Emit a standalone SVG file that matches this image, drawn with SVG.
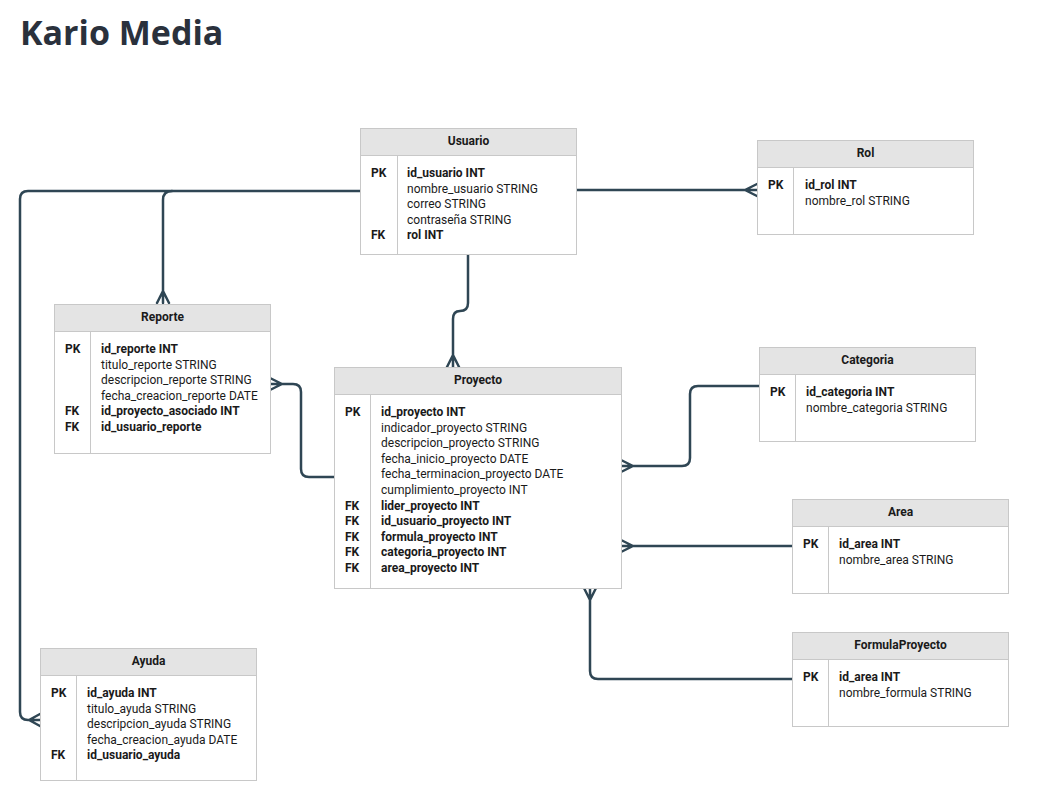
<svg xmlns="http://www.w3.org/2000/svg" width="1040" height="797" viewBox="0 0 1040 797">
<style>
.bg{fill:#ffffff}
.box{fill:#ffffff;stroke:#c8c8c8;stroke-width:1}
.hdr{fill:#e4e4e4;stroke:#c8c8c8;stroke-width:1}
.div{stroke:#c8c8c8;stroke-width:1}
.title{font-family:"Open Sans","Noto Sans",sans-serif;font-weight:bold;font-size:34px;fill:#2a313c}
.h{font-family:Roboto,"Liberation Sans",sans-serif;font-weight:bold;font-size:12px;fill:#1a1a1a;text-anchor:middle}
.k{font-family:Roboto,"Liberation Sans",sans-serif;font-weight:bold;font-size:12px;fill:#1a1a1a}
.f{font-family:Roboto,"Liberation Sans",sans-serif;font-size:12px;fill:#1a1a1a}
.b{font-weight:bold}
.c{fill:none;stroke:#2f4654;stroke-width:2.5;stroke-linecap:round;stroke-linejoin:round}
</style>
<rect class="bg" x="0" y="0" width="1040" height="797"/>
<text class="title" x="20" y="45">Kario Media</text>

<g id="connectors">
  <path class="c" d="M577,190 H757 M745,190 L757,184 M745,190 L757,196"/>
  <path class="c" d="M360,191 H172 Q163,191 163,200 V303 M163,291 L157,303 M163,291 L169,303"/>
  <path class="c" d="M172,191 H28 Q20,191 20,199 V712 Q20,720 28,720 H40 M29,720 L40,714 M29,720 L40,726"/>
  <path class="c" d="M468,254 V303 Q468,311 460,311 Q453,311 453,319 V367 M453,355 L447,367 M453,355 L459,367"/>
  <path class="c" d="M270,384 H293 Q301,384 301,392 V469 Q301,477 309,477 H334 M282,384 L270,378 M282,384 L270,390"/>
  <path class="c" d="M759,386 H698 Q690,386 690,394 V458 Q690,466 682,466 H621 M633,466 L621,460 M633,466 L621,472"/>
  <path class="c" d="M792,546 H621 M633,546 L621,540 M633,546 L621,552"/>
  <path class="c" d="M792,679 H598 Q590,679 590,671 V588 M590,600 L584,588 M590,600 L596,588"/>
</g>

<g id="Usuario">
  <rect class="box" x="360.5" y="128.5" width="216" height="126"/>
  <rect class="hdr" x="360.5" y="128.5" width="216" height="27"/>
  <line class="div" x1="397.5" y1="155.5" x2="397.5" y2="254.5"/>
  <text class="h" x="468.5" y="145">Usuario</text>
  <text class="k" x="371" y="177">PK</text>
  <text class="f b" x="407" y="177">id_usuario INT</text>
  <text class="f" x="407" y="192.6">nombre_usuario STRING</text>
  <text class="f" x="407" y="208.2">correo STRING</text>
  <text class="f" x="407" y="223.8">contraseña STRING</text>
  <text class="k" x="371" y="239.4">FK</text>
  <text class="f b" x="407" y="239.4">rol INT</text>
</g>

<g id="Rol">
  <rect class="box" x="757.5" y="140.5" width="216" height="94"/>
  <rect class="hdr" x="757.5" y="140.5" width="216" height="27"/>
  <line class="div" x1="793.5" y1="167.5" x2="793.5" y2="234.5"/>
  <text class="h" x="865.5" y="157">Rol</text>
  <text class="k" x="768" y="189">PK</text>
  <text class="f b" x="805" y="189">id_rol INT</text>
  <text class="f" x="805" y="204.6">nombre_rol STRING</text>
</g>

<g id="Reporte">
  <rect class="box" x="54.5" y="304.5" width="216" height="149"/>
  <rect class="hdr" x="54.5" y="304.5" width="216" height="27"/>
  <line class="div" x1="90.5" y1="331.5" x2="90.5" y2="453.5"/>
  <text class="h" x="162.5" y="321">Reporte</text>
  <text class="k" x="65" y="353">PK</text>
  <text class="f b" x="101" y="353">id_reporte INT</text>
  <text class="f" x="101" y="368.6">titulo_reporte STRING</text>
  <text class="f" x="101" y="384.2">descripcion_reporte STRING</text>
  <text class="f" x="101" y="399.8">fecha_creacion_reporte DATE</text>
  <text class="k" x="65" y="415.4">FK</text>
  <text class="f b" x="101" y="415.4">id_proyecto_asociado INT</text>
  <text class="k" x="65" y="431">FK</text>
  <text class="f b" x="101" y="431">id_usuario_reporte</text>
</g>

<g id="Proyecto">
  <rect class="box" x="334.5" y="367.5" width="287" height="221"/>
  <rect class="hdr" x="334.5" y="367.5" width="287" height="27"/>
  <line class="div" x1="370.5" y1="394.5" x2="370.5" y2="588.5"/>
  <text class="h" x="478" y="384">Proyecto</text>
  <text class="k" x="345" y="416">PK</text>
  <text class="f b" x="381" y="416">id_proyecto INT</text>
  <text class="f" x="381" y="431.6">indicador_proyecto STRING</text>
  <text class="f" x="381" y="447.2">descripcion_proyecto STRING</text>
  <text class="f" x="381" y="462.8">fecha_inicio_proyecto DATE</text>
  <text class="f" x="381" y="478.4">fecha_terminacion_proyecto DATE</text>
  <text class="f" x="381" y="494">cumplimiento_proyecto INT</text>
  <text class="k" x="345" y="509.6">FK</text>
  <text class="f b" x="381" y="509.6">lider_proyecto INT</text>
  <text class="k" x="345" y="525.2">FK</text>
  <text class="f b" x="381" y="525.2">id_usuario_proyecto INT</text>
  <text class="k" x="345" y="540.8">FK</text>
  <text class="f b" x="381" y="540.8">formula_proyecto INT</text>
  <text class="k" x="345" y="556.4">FK</text>
  <text class="f b" x="381" y="556.4">categoria_proyecto INT</text>
  <text class="k" x="345" y="572">FK</text>
  <text class="f b" x="381" y="572">area_proyecto INT</text>
</g>

<g id="Categoria">
  <rect class="box" x="759.5" y="347.5" width="216" height="94"/>
  <rect class="hdr" x="759.5" y="347.5" width="216" height="27"/>
  <line class="div" x1="795.5" y1="374.5" x2="795.5" y2="441.5"/>
  <text class="h" x="867.5" y="364">Categoria</text>
  <text class="k" x="770" y="396">PK</text>
  <text class="f b" x="806" y="396">id_categoria INT</text>
  <text class="f" x="806" y="411.6">nombre_categoria STRING</text>
</g>

<g id="Area">
  <rect class="box" x="792.5" y="499.5" width="216" height="94"/>
  <rect class="hdr" x="792.5" y="499.5" width="216" height="27"/>
  <line class="div" x1="828.5" y1="526.5" x2="828.5" y2="593.5"/>
  <text class="h" x="900.5" y="516">Area</text>
  <text class="k" x="803" y="548">PK</text>
  <text class="f b" x="839" y="548">id_area INT</text>
  <text class="f" x="839" y="563.6">nombre_area STRING</text>
</g>

<g id="FormulaProyecto">
  <rect class="box" x="792.5" y="632.5" width="216" height="94"/>
  <rect class="hdr" x="792.5" y="632.5" width="216" height="27"/>
  <line class="div" x1="828.5" y1="659.5" x2="828.5" y2="726.5"/>
  <text class="h" x="900.5" y="649">FormulaProyecto</text>
  <text class="k" x="803" y="681">PK</text>
  <text class="f b" x="839" y="681">id_area INT</text>
  <text class="f" x="839" y="696.6">nombre_formula STRING</text>
</g>

<g id="Ayuda">
  <rect class="box" x="40.5" y="648.5" width="216" height="132"/>
  <rect class="hdr" x="40.5" y="648.5" width="216" height="27"/>
  <line class="div" x1="76.5" y1="675.5" x2="76.5" y2="780.5"/>
  <text class="h" x="148.5" y="665">Ayuda</text>
  <text class="k" x="51" y="697">PK</text>
  <text class="f b" x="87" y="697">id_ayuda INT</text>
  <text class="f" x="87" y="712.6">titulo_ayuda STRING</text>
  <text class="f" x="87" y="728.2">descripcion_ayuda STRING</text>
  <text class="f" x="87" y="743.8">fecha_creacion_ayuda DATE</text>
  <text class="k" x="51" y="759.4">FK</text>
  <text class="f b" x="87" y="759.4">id_usuario_ayuda</text>
</g>
</svg>
